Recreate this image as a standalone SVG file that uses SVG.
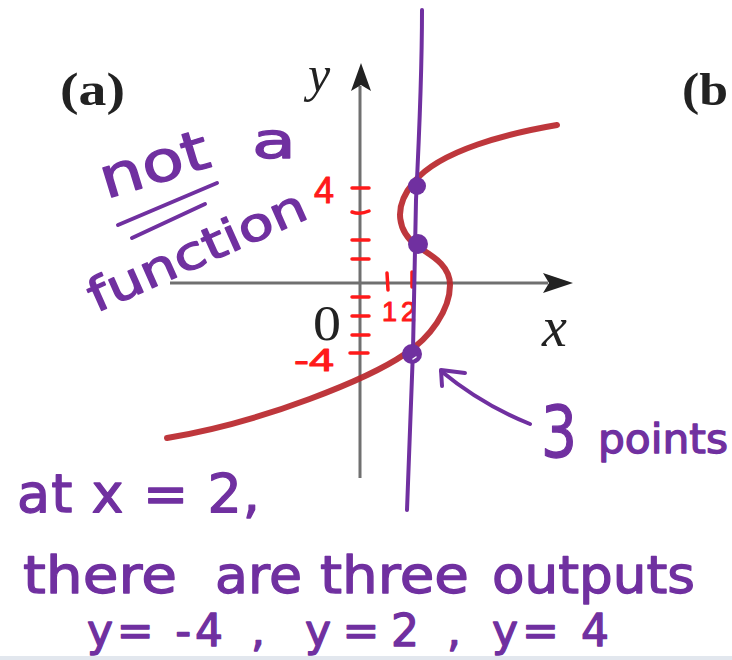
<svg xmlns="http://www.w3.org/2000/svg" width="732" height="660" viewBox="0 0 732 660">
<defs>
<style>
.axis{stroke:#707070;stroke-width:3;fill:none}
.serif{font-family:"Liberation Serif","Times New Roman",serif;fill:#222}
.hand{font-family:"DejaVu Sans","Noto Sans",sans-serif;fill:#7030a0;stroke:#7030a0;stroke-width:1.3;stroke-linejoin:round}
.red{font-family:"Liberation Sans","DejaVu Sans",sans-serif;fill:#ff1a1a;stroke:#ff1a1a;stroke-width:1;stroke-linejoin:round}
.tick{stroke:#ff1a1a;stroke-width:3.5;stroke-linecap:round;fill:none}
.pline{stroke:#7030a0;stroke-width:4;stroke-linecap:round;stroke-linejoin:round;fill:none}
.dot{fill:#7030a0}
</style>
</defs>
<rect width="732" height="660" fill="#ffffff"/>
<rect x="0" y="656" width="732" height="4" fill="#e2e7ee"/>

<g id="axes">
<line class="axis" x1="170" y1="283" x2="548" y2="283"/>
<polygon points="573,283 543,273 549,283 543,293" fill="#222"/>
<line class="axis" x1="360" y1="478" x2="360" y2="86"/>
<polygon points="361,63 351,91 361,85 371,91" fill="#222"/>
<text class="serif" x="60" y="105" font-size="46" font-weight="bold" textLength="65" lengthAdjust="spacingAndGlyphs">(a)</text>
<text class="serif" x="682" y="105" font-size="46" font-weight="bold" textLength="46" lengthAdjust="spacingAndGlyphs">(b</text>
<text class="serif" x="308" y="91" font-size="50" font-style="italic">y</text>
<text class="serif" x="313" y="340" font-size="50" textLength="28" lengthAdjust="spacingAndGlyphs">0</text>
<text class="serif" x="542" y="346" font-size="56" font-style="italic">x</text>
</g>

<g id="curve">
<path d="M557,125 C510,133 440,150 414,182 C392,208 398,232 418,247 C437,258 450,268 450,285 C450,310 430,338 405,354 C370,378 265,422 167,438" fill="none" stroke="#b8262b" stroke-width="6" stroke-linecap="round" opacity="0.92"/>
</g>

<g id="red-marks">
<line class="tick" x1="352" y1="188" x2="369" y2="188"/>
<path class="tick" d="M352,212 Q360,215 369,211"/>
<line class="tick" x1="352" y1="240" x2="369" y2="240"/>
<line class="tick" x1="352" y1="259" x2="369" y2="259"/>
<line class="tick" x1="352" y1="297" x2="369" y2="297"/>
<line class="tick" x1="352" y1="316" x2="369" y2="316"/>
<line class="tick" x1="352" y1="335" x2="369" y2="335"/>
<line class="tick" x1="350" y1="353" x2="368" y2="353"/>
<line class="tick" x1="387" y1="273" x2="388" y2="290"/>
<line class="tick" x1="412" y1="272" x2="412" y2="287"/>
<text class="red" x="314" y="203" font-size="36">4</text>
<text class="red" x="294" y="371" font-size="32" textLength="40" lengthAdjust="spacingAndGlyphs">-4</text>
<text class="red" x="382" y="321" font-size="27">1</text>
<text class="red" x="401" y="321" font-size="27">2</text>
</g>

<g id="vertical-line">
<path class="pline" d="M422,10 C422,60 419,140 416,200 L413,350 L407,510"/>
</g>

<g id="points">
<circle class="dot" cx="417" cy="186" r="9"/>
<circle class="dot" cx="418" cy="244" r="10"/>
<circle class="dot" cx="412" cy="354" r="10"/>
<line x1="413" y1="359" x2="416" y2="357" stroke="#ffffff" stroke-width="1.5" stroke-linecap="round"/>
</g>

<g id="connectors">
<path class="pline" d="M441,371 C470,395 500,412 530,424"/>
<path class="pline" d="M442,386 L441,370 L465,373"/>
</g>

<g id="annotations">
<text class="hand" font-size="56" transform="translate(106,199) rotate(-17)" textLength="112" lengthAdjust="spacingAndGlyphs">not</text>
<text class="hand" x="252" y="158" font-size="50" textLength="44" lengthAdjust="spacingAndGlyphs">a</text>
<line class="pline" x1="118" y1="225" x2="217" y2="183"/>
<line class="pline" x1="132" y1="238" x2="205" y2="204"/>
<text class="hand" font-size="46" transform="translate(96,313) rotate(-24)" textLength="235" lengthAdjust="spacingAndGlyphs">function</text>
<text class="hand" x="541" y="457" font-size="72" textLength="36" lengthAdjust="spacingAndGlyphs">3</text>
<text class="hand" x="598" y="453" font-size="40" textLength="130" lengthAdjust="spacingAndGlyphs">points</text>
<text class="hand" x="17" y="512" font-size="54" textLength="243" lengthAdjust="spacing">at x = 2,</text>
<text class="hand" x="23" y="593" font-size="52" textLength="154" lengthAdjust="spacingAndGlyphs">there</text>
<text class="hand" x="215" y="593" font-size="52" textLength="87" lengthAdjust="spacingAndGlyphs">are</text>
<text class="hand" x="320" y="593" font-size="52" textLength="149" lengthAdjust="spacingAndGlyphs">three</text>
<text class="hand" x="492" y="593" font-size="52" textLength="203" lengthAdjust="spacingAndGlyphs">outputs</text>
<text class="hand" x="87" y="646" font-size="44" textLength="136" lengthAdjust="spacing">y= -4</text>
<text class="hand" x="251" y="646" font-size="44">,</text>
<text class="hand" x="305" y="646" font-size="44" textLength="114" lengthAdjust="spacing">y=2</text>
<text class="hand" x="447" y="646" font-size="44">,</text>
<text class="hand" x="492" y="646" font-size="44" textLength="117" lengthAdjust="spacing">y= 4</text>
</g>
</svg>
